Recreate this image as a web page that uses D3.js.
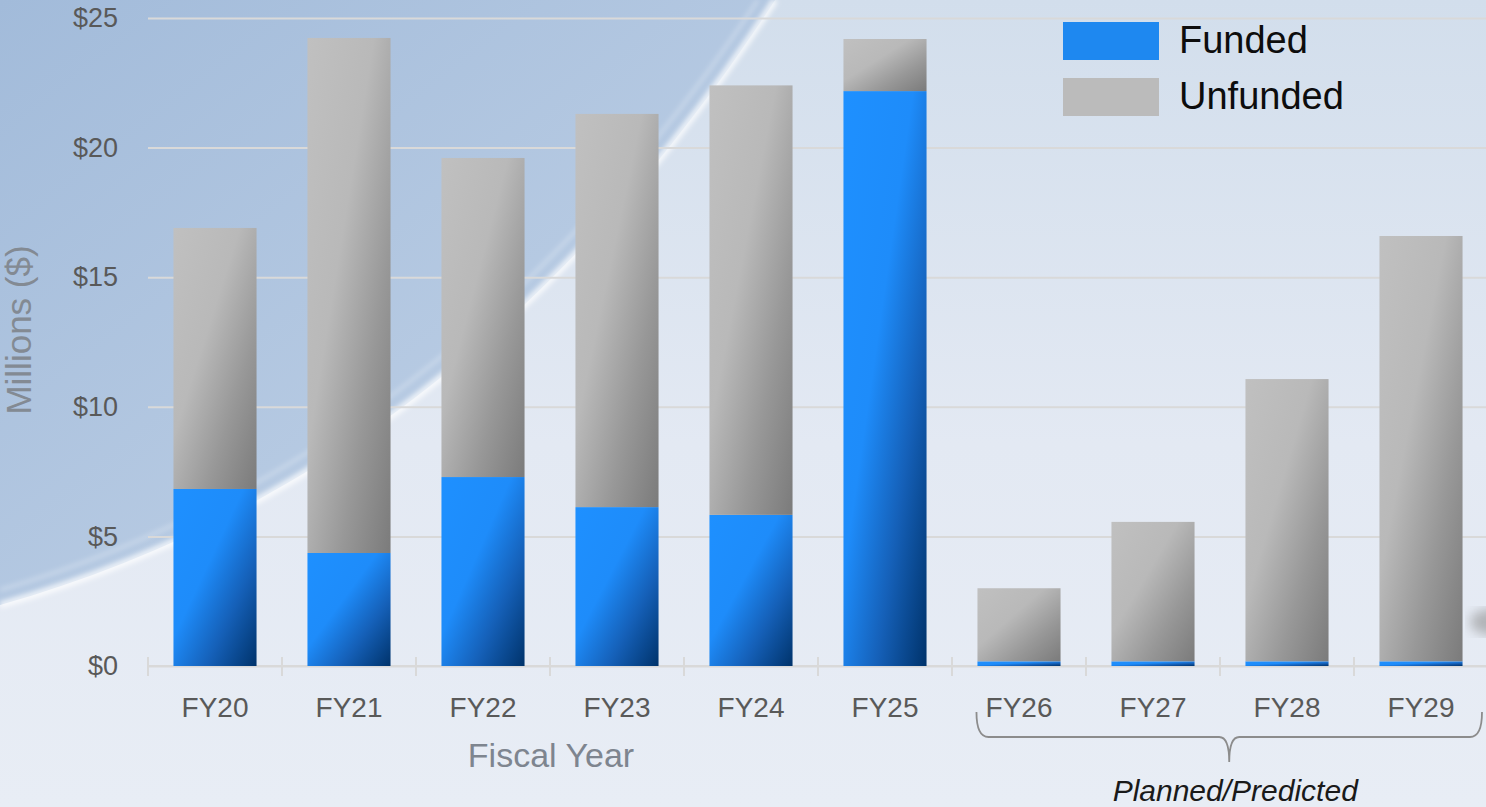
<!DOCTYPE html>
<html>
<head>
<meta charset="utf-8">
<script src="https://cdn.jsdelivr.net/npm/d3@7"></script>
<style>
  body { margin: 0; background: #e6ebf4; }
  svg { display: block; font-family: "Liberation Sans", Arial, sans-serif; }
</style>
</head>
<body>
<div id="chart-area"></div>
<script>
//////////////////////////////////////////////
// Data //////////////////////////////////////
//////////////////////////////////////////////
var years = ["FY20", "FY21", "FY22", "FY23", "FY24", "FY25", "FY26", "FY27", "FY28", "FY29"];
var funded = [6.83, 4.36, 7.29, 6.13, 5.83, 22.18, 0.18, 0.18, 0.18, 0.18];
var unfunded = [10.07, 19.87, 12.31, 15.17, 16.57, 2.01, 2.82, 5.38, 10.89, 16.41];
var yTicks = [0, 5, 10, 15, 20, 25];
var seriesNames = ["Funded", "Unfunded"];
var plannedYears = ["FY26", "FY27", "FY28", "FY29"];

// table for the stack layout
var table = years.map(function(y, i) {
    return {year: y, Funded: funded[i], Unfunded: unfunded[i]};
});

//////////////////////////////////////////////
// Chart Config /////////////////////////////
//////////////////////////////////////////////
var W = 1486, H = 807;
var plot = {left: 148, right: 1488, top: 18, bottom: 666};

var xScale = d3.scaleBand()
    .domain(years)
    .range([plot.left, plot.right])
    .paddingInner(0.38)
    .paddingOuter(0.19);

var yScale = d3.scaleLinear()
    .domain([0, 25])
    .range([plot.bottom, plot.top]);

var svg = d3.select("#chart-area")
    .append("svg")
    .attr("width", W)
    .attr("height", H);

var defs = svg.append("defs");

// gradients
function diagGrad(id, stops) {
    var g = defs.append("linearGradient")
        .attr("id", id)
        .attr("x1", 0).attr("y1", 0)
        .attr("x2", 1).attr("y2", 1);
    stops.forEach(function(s) {
        g.append("stop").attr("offset", s[0]).attr("stop-color", s[1]);
    });
}
diagGrad("gradFunded", [[0, "#1e90ff"], [0.42, "#1e8cfa"], [0.7, "#1560b8"], [1, "#00336b"]]);
diagGrad("gradUnfunded", [[0, "#c0c0c0"], [0.4, "#b9b9b9"], [0.7, "#989898"], [1, "#7b7b7b"]]);

var bgGrad = defs.append("linearGradient").attr("id", "bgGrad")
    .attr("x1", 0).attr("y1", 0).attr("x2", 0).attr("y2", 1);
bgGrad.append("stop").attr("offset", 0).attr("stop-color", "#d2deec");
bgGrad.append("stop").attr("offset", 0.55).attr("stop-color", "#e3e9f3");
bgGrad.append("stop").attr("offset", 1).attr("stop-color", "#e8edf5");

var blueGrad = defs.append("linearGradient").attr("id", "blueGrad")
    .attr("x1", 0).attr("y1", 0).attr("x2", 1).attr("y2", 1);
blueGrad.append("stop").attr("offset", 0).attr("stop-color", "#a2bbda");
blueGrad.append("stop").attr("offset", 1).attr("stop-color", "#c4d4e8");

defs.append("filter").attr("id", "blur")
    .append("feGaussianBlur").attr("stdDeviation", 2.5);
defs.append("filter").attr("id", "blurBig")
    .append("feGaussianBlur").attr("stdDeviation", 6);

//////////////////////////////////////////////
// Background ////////////////////////////////
//////////////////////////////////////////////
var arc = "M0,605 C300,520 560,330 775,0";
svg.append("rect").attr("width", W).attr("height", H).attr("fill", "url(#bgGrad)");
svg.append("path")
    .attr("d", arc + " L0,0 Z")
    .attr("fill", "url(#blueGrad)");
svg.append("path")
    .attr("d", arc)
    .attr("fill", "none")
    .attr("stroke", "#ffffff")
    .attr("stroke-opacity", 0.75)
    .attr("stroke-width", 7)
    .attr("filter", "url(#blur)");
svg.append("path")
    .attr("d", "M0,590 C290,505 545,320 758,0")
    .attr("fill", "none")
    .attr("stroke", "#ffffff")
    .attr("stroke-opacity", 0.35)
    .attr("stroke-width", 3)
    .attr("filter", "url(#blur)");
svg.append("ellipse")
    .attr("cx", 1492).attr("cy", 622).attr("rx", 22).attr("ry", 13)
    .attr("fill", "#8f8f8f").attr("opacity", 0.6)
    .attr("filter", "url(#blurBig)");

//////////////////////////////////////////////
// Axes //////////////////////////////////////
//////////////////////////////////////////////
var grid = svg.append("g")
    .attr("transform", "translate(" + plot.left + ",0)")
    .call(d3.axisLeft(yScale).tickValues(yTicks).tickFormat("").tickSize(-(W - plot.left)));
grid.select(".domain").remove();
grid.selectAll("line").attr("stroke", "#d9d9d9").attr("stroke-width", 2);

var yAxisEl = svg.append("g")
    .attr("transform", "translate(" + plot.left + ",0)")
    .call(d3.axisLeft(yScale).tickValues(yTicks).tickSize(0).tickPadding(30)
        .tickFormat(function(d) { return "$" + d; }));
yAxisEl.select(".domain").remove();
yAxisEl.selectAll("text")
    .attr("fill", "#595959")
    .style("font-size", "27px")
    .style("font-family", "'Liberation Sans', Arial, sans-serif");

// baseline + band boundary ticks
svg.append("line")
    .attr("x1", plot.left).attr("x2", W)
    .attr("y1", yScale(0)).attr("y2", yScale(0))
    .attr("stroke", "#d9d9d9").attr("stroke-width", 2);

var bounds = d3.range(years.length + 1).map(function(i) {
    return xScale.range()[0] + i * xScale.step();
});
svg.selectAll(".bound")
    .data(bounds)
    .enter().append("line")
    .attr("class", "bound")
    .attr("x1", function(d) { return d; })
    .attr("x2", function(d) { return d; })
    .attr("y1", yScale(0) - 9)
    .attr("y2", yScale(0) + 10)
    .attr("stroke", "#d9d9d9").attr("stroke-width", 2);

var xAxisEl = svg.append("g")
    .attr("transform", "translate(0," + yScale(0) + ")")
    .call(d3.axisBottom(xScale).tickSize(0).tickPadding(31));
xAxisEl.select(".domain").remove();
xAxisEl.selectAll("text")
    .attr("fill", "#595959")
    .style("font-size", "28px")
    .style("font-family", "'Liberation Sans', Arial, sans-serif");

//////////////////////////////////////////////
// Bars //////////////////////////////////////
//////////////////////////////////////////////
var stack = d3.stack().keys(seriesNames);
var layers = stack(table);
var fills = {Funded: "url(#gradFunded)", Unfunded: "url(#gradUnfunded)"};

svg.selectAll(".layer")
    .data(layers)
    .enter().append("g")
    .attr("class", "layer")
    .attr("fill", function(d) { return fills[d.key]; })
    .selectAll("rect")
    .data(function(d) { return d; })
    .enter().append("rect")
    .attr("x", function(d) { return xScale(d.data.year); })
    .attr("width", xScale.bandwidth())
    .attr("y", function(d) { return yScale(d[1]); })
    .attr("height", function(d) { return yScale(d[0]) - yScale(d[1]); });

//////////////////////////////////////////////
// Titles ////////////////////////////////////
//////////////////////////////////////////////
svg.append("text")
    .attr("transform", "translate(31,330) rotate(-90)")
    .attr("text-anchor", "middle")
    .attr("fill", "#838a93")
    .style("font-size", "35px")
    .text("Millions ($)");

svg.append("text")
    .attr("x", 551).attr("y", 767)
    .attr("text-anchor", "middle")
    .attr("fill", "#7e858f")
    .style("font-size", "34px")
    .text("Fiscal Year");

// brace under the planned years
var bx0 = xScale(plannedYears[0]) - 1;
var bx1 = xScale.range()[1] - 6;
var bm = (bx0 + bx1) / 2;
var by = 737;
var brace = d3.path();
brace.moveTo(bx0, 712);
brace.quadraticCurveTo(bx0, by, bx0 + 12, by);
brace.lineTo(bm - 10, by);
brace.quadraticCurveTo(bm, by, bm, 762);
brace.quadraticCurveTo(bm, by, bm + 10, by);
brace.lineTo(bx1 - 12, by);
brace.quadraticCurveTo(bx1, by, bx1, 712);
svg.append("path")
    .attr("d", brace.toString())
    .attr("fill", "none")
    .attr("stroke", "#8c8c8c")
    .attr("stroke-width", 1.8);

svg.append("text")
    .attr("x", bm + 6).attr("y", 801)
    .attr("text-anchor", "middle")
    .attr("fill", "#1a1a1a")
    .style("font-size", "30px")
    .style("font-style", "italic")
    .text("Planned/Predicted");

//////////////////////////////////////////////
// Legend ////////////////////////////////////
//////////////////////////////////////////////
var legendColors = {Funded: "#1e88f0", Unfunded: "#bbbbbb"};
var legend = svg.selectAll(".legend")
    .data(seriesNames)
    .enter().append("g")
    .attr("class", "legend")
    .attr("transform", function(d, i) { return "translate(1063," + (22 + i * 56) + ")"; });
legend.append("rect")
    .attr("width", 96).attr("height", 38)
    .attr("fill", function(d) { return legendColors[d]; });
legend.append("text")
    .attr("x", 116).attr("y", 31)
    .attr("fill", "#0d0d0d")
    .style("font-size", "38px")
    .text(function(d) { return d; });
</script>
</body>
</html>
